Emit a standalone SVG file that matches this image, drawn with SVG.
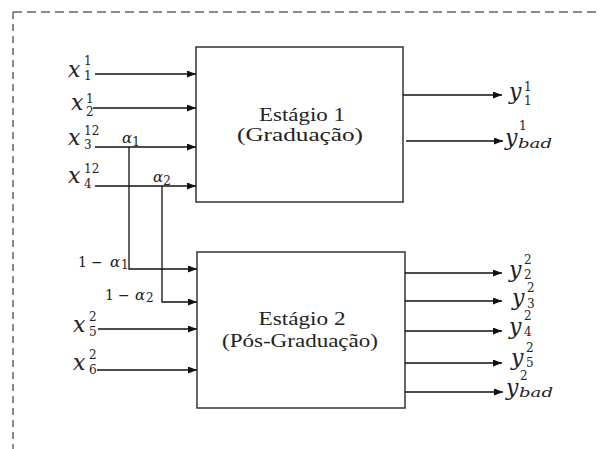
<svg xmlns="http://www.w3.org/2000/svg" width="600" height="449" viewBox="0 0 600 449">
<defs>
<marker id="ah" markerWidth="9" markerHeight="7" refX="9" refY="3.5" orient="auto" markerUnits="userSpaceOnUse">
<path d="M0,0 L9,3.5 L0,7 Z" fill="#111"/>
</marker>
<style>
text{font-family:"Liberation Serif",serif;fill:#222}
.box{fill:#fff;stroke:#333;stroke-width:1.5}
.arr{fill:none;stroke:#111;stroke-width:1.3;marker-end:url(#ah)}
.lbl{font-size:19px}
.m{font-family:"DejaVu Serif",serif;font-style:italic;font-size:22px}
.s{font-family:"DejaVu Serif",serif;font-style:normal;font-size:12px}
.si{font-family:"DejaVu Serif",serif;font-style:italic;font-size:13px}
.a{font-family:"DejaVu Serif",serif;font-style:italic;font-size:15px}
.n{font-family:"DejaVu Serif",serif;font-size:14px}
.dash{fill:none;stroke:#666;stroke-width:1.5}
</style>
</defs>
<g id="border">
<line class="dash" x1="13" y1="12" x2="600" y2="12" stroke-dasharray="9 5"/>
<line class="dash" x1="13" y1="12" x2="13" y2="449" stroke-dasharray="7 5"/>
</g>
<g id="stage1">
<rect class="box" x="196" y="47" width="207" height="155"/>
<text class="lbl" x="302" y="121" text-anchor="middle" textLength="86" lengthAdjust="spacingAndGlyphs">Estágio 1</text>
<text class="lbl" x="300" y="141" text-anchor="middle" textLength="126" lengthAdjust="spacingAndGlyphs">(Graduação)</text>
</g>
<g id="stage2">
<rect class="box" x="197" y="252" width="208" height="156"/>
<text class="lbl" x="302" y="325" text-anchor="middle" textLength="87" lengthAdjust="spacingAndGlyphs">Estágio 2</text>
<text class="lbl" x="300" y="347" text-anchor="middle" textLength="156" lengthAdjust="spacingAndGlyphs">(Pós-Graduação)</text>
</g>
<g id="connectors">
<line class="arr" x1="95" y1="74" x2="196" y2="74"/>
<line class="arr" x1="93" y1="108" x2="196" y2="108"/>
<line class="arr" x1="95" y1="147" x2="196" y2="147"/>
<line class="arr" x1="95" y1="186" x2="196" y2="186"/>
<polyline class="arr" points="129,147 129,269 197,269"/>
<polyline class="arr" points="162,186 162,302 197,302"/>
<line class="arr" x1="98" y1="329" x2="197" y2="329"/>
<line class="arr" x1="97" y1="370" x2="197" y2="370"/>
<line class="arr" x1="403" y1="95" x2="502" y2="95"/>
<line class="arr" x1="406" y1="141" x2="503" y2="141"/>
<line class="arr" x1="405" y1="273" x2="502" y2="273"/>
<line class="arr" x1="405" y1="301" x2="502" y2="301"/>
<line class="arr" x1="405" y1="331" x2="502" y2="331"/>
<line class="arr" x1="405" y1="363" x2="502" y2="363"/>
<line class="arr" x1="405" y1="392" x2="503" y2="392"/>
</g>
<g id="labels">
<text class="m" x="68" y="77">x<tspan class="s" x="84" y="65">1</tspan><tspan class="s" x="84" y="80">1</tspan></text>
<text class="m" x="71" y="110">x<tspan class="s" x="86" y="103">1</tspan><tspan class="s" x="86" y="116">2</tspan></text>
<text class="m" x="68" y="145">x<tspan class="s" x="84" y="135">12</tspan><tspan class="s" x="84" y="149">3</tspan></text>
<text class="m" x="68" y="183">x<tspan class="s" x="84" y="173">12</tspan><tspan class="s" x="84" y="188">4</tspan></text>
<text class="a" x="122" y="143">α<tspan class="s" font-size="10" y="146">1</tspan></text>
<text class="a" x="153" y="182">α<tspan class="s" font-size="10" y="185">2</tspan></text>
<text class="n" x="78" y="267">1<tspan x="91">−</tspan><tspan class="a" x="110">α</tspan><tspan class="s" font-size="10" x="121" y="269">1</tspan></text>
<text class="n" x="105" y="300">1<tspan x="118">−</tspan><tspan class="a" x="135">α</tspan><tspan class="s" font-size="10" x="146" y="302">2</tspan></text>
<text class="m" x="73" y="332">x<tspan class="s" x="89" y="321">2</tspan><tspan class="s" x="89" y="336">5</tspan></text>
<text class="m" x="73" y="370">x<tspan class="s" x="89" y="359">2</tspan><tspan class="s" x="89" y="374">6</tspan></text>
<text class="m" x="509" y="99">y<tspan class="s" x="524" y="91">1</tspan><tspan class="s" x="524" y="105">1</tspan></text>
<text class="m" x="505" y="145">y<tspan class="s" x="519" y="130">1</tspan><tspan class="si" x="518" y="148" textLength="34" lengthAdjust="spacingAndGlyphs">bad</tspan></text>
<text class="m" x="509" y="277">y<tspan class="s" x="524" y="264">2</tspan><tspan class="s" x="524" y="279">2</tspan></text>
<text class="m" x="512" y="305">y<tspan class="s" x="527" y="292">2</tspan><tspan class="s" x="527" y="308">3</tspan></text>
<text class="m" x="509" y="334">y<tspan class="s" x="524" y="320">2</tspan><tspan class="s" x="524" y="336">4</tspan></text>
<text class="m" x="511" y="365">y<tspan class="s" x="526" y="352">2</tspan><tspan class="s" x="526" y="367">5</tspan></text>
<text class="m" x="506" y="395">y<tspan class="s" x="520" y="380">2</tspan><tspan class="si" x="519" y="397" textLength="34" lengthAdjust="spacingAndGlyphs">bad</tspan></text>
</g>
</svg>
